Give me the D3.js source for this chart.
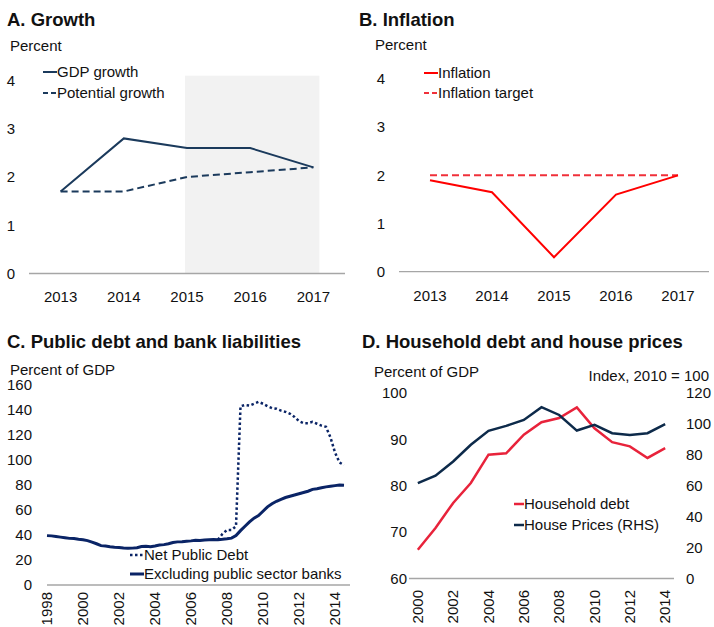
<!DOCTYPE html>
<html><head><meta charset="utf-8">
<script src="https://cdn.jsdelivr.net/npm/d3@7"></script>
<style>body{margin:0;background:#fff}svg{display:block}text{font-family:"Liberation Sans",Arial,sans-serif;fill:#111}</style>
</head><body>
<svg id="c" width="714" height="627"></svg>
<script>
// ---- Data ----
const yearsAB = [2013, 2014, 2015, 2016, 2017];
const gdpGrowth = [1.7, 2.8, 2.6, 2.6, 2.2];
const potentialGrowth = [1.7, 1.7, 2.0, 2.1, 2.2];
const inflation = [1.9, 1.65, 0.3, 1.6, 2.0];
const inflationTarget = [2.0, 2.0, 2.0, 2.0, 2.0];
const ticksAB = [0, 1, 2, 3, 4];
const shadeYears = [2015, 2017];

// Panel C: quarterly, starting 1998Q1
const cStart = 1998;
const exclPublicBanks = [
 39.5,39.3,38.8,38.3, 37.8,37.3,37.2,36.6, 36.2,35.5,34.3,33.0, 31.5,31.2,30.6,30.2,
 30.0,29.6,29.4,29.5, 29.8,30.8,30.9,30.7, 31.2,32.0,32.3,33.0, 34.0,34.5,34.6,35.0,
 35.3,35.8,35.6,36.0, 36.2,36.4,36.3,36.6, 37.0,37.5,39.5,43.5, 47.0,50.5,53.5,55.5,
 59.0,62.5,65.0,67.0, 68.5,70.0,71.0,72.0, 73.0,74.0,75.0,76.5, 77.0,77.8,78.5,79.0,
 79.5,80.0,79.8];
// Net public debt: quarterly from 2007Q3
const netStart = 2007.5;
const netPublicDebt = [36.3,41.0, 44.0,44.0,47.0,143.0, 144.0,143.5,145.0,146.5,
 145.0,143.0,141.5,141.0, 139.5,138.5,137.0,134.5, 131.0,129.5,129.5,130.5,
 129.0,127.5,126.5,118.0, 106.0,98.0,96.0];
const ticksCx = [1998,2000,2002,2004,2006,2008,2010,2012,2014];
const ticksCy = [0,20,40,60,80,100,120,140,160];

// Panel D: annual
const yearsD = d3.range(2000, 2015);
const householdDebt = [66.2,70.9,76.3,80.6,86.7,87.0,91.0,93.7,94.6,96.9,92.4,89.4,88.5,86.0,88.1];
const housePrices = [61.7,66.5,75.7,86.5,95.5,98.7,102.6,110.8,105.8,95.7,99.4,94.0,92.9,94.0,99.8];
const ticksDx = [2000,2002,2004,2006,2008,2010,2012,2014];
const ticksDl = [60,70,80,90,100];
const ticksDr = [0,20,40,60,80,100,120];

// ---- Drawing ----
const svg = d3.select("#c");
const navyA = "#1b3a5c", navyC = "#0a2466", navyD = "#0d2a4a", red = "#ff0000", redD = "#e8233b";
const axisCol = "#a6a6a6";
const FS = 15;

function title(x, y, t){ svg.append("text").attr("x",x).attr("y",y).attr("font-size",18.5).attr("font-weight","bold").text(t); }
function label(x, y, t, anchor){ svg.append("text").attr("x",x).attr("y",y).attr("font-size",FS).attr("text-anchor",anchor||"start").text(t); }
function hline(x1,x2,y){ svg.append("line").attr("x1",x1).attr("x2",x2).attr("y1",y).attr("y2",y).attr("stroke",axisCol).attr("stroke-width",1.3); }
function path(data, x, y, color, w, dash){
  const p = svg.append("path").datum(data).attr("fill","none").attr("stroke",color).attr("stroke-width",w)
    .attr("d", d3.line().x(d=>x(d[0])).y(d=>y(d[1])));
  if (dash) p.attr("stroke-dasharray", dash);
  return p;
}
function legendItem(x1,x2,y,color,w,dash,t){
  const l = svg.append("line").attr("x1",x1).attr("x2",x2).attr("y1",y).attr("y2",y).attr("stroke",color).attr("stroke-width",w);
  if (dash) l.attr("stroke-dasharray",dash);
  svg.append("text").attr("x",x2).attr("y",y).attr("dy","0.35em").attr("font-size",FS).text(t);
}

// Panel A
{
  const x = d3.scalePoint().domain(yearsAB).range([29,345]).padding(0.5);
  const y = d3.scaleLinear().domain([0,4]).range([273.5,80.5]);
  svg.append("rect").attr("x", x(shadeYears[0])-2).attr("width", x(shadeYears[1])-x(shadeYears[0])+8)
    .attr("y", y(4.1)).attr("height", y(0)-y(4.1)).attr("fill","#f2f2f2");
  title(7,26,"A. Growth");
  label(10,51,"Percent");
  ticksAB.forEach(t=>svg.append("text").attr("x",15).attr("y",y(t)).attr("dy","0.35em").attr("font-size",FS).attr("text-anchor","end").text(t));
  yearsAB.forEach(t=>svg.append("text").attr("x",x(t)).attr("y",297).attr("dy","0.35em").attr("font-size",FS).attr("text-anchor","middle").text(t));
  hline(29,345,y(0));
  path(yearsAB.map((d,i)=>[d,potentialGrowth[i]]), x, y, navyA, 2, "7,4");
  path(yearsAB.map((d,i)=>[d,gdpGrowth[i]]), x, y, navyA, 2);
  legendItem(43,57,72,navyA,2,null,"GDP growth");
  legendItem(43,57,93,navyA,2,"5,3","Potential growth");
}
// Panel B
{
  const x = d3.scalePoint().domain(yearsAB).range([399,709]).padding(0.5);
  const y = d3.scaleLinear().domain([0,4]).range([271.7,79]);
  title(359,26,"B. Inflation");
  label(375,50,"Percent");
  ticksAB.forEach(t=>svg.append("text").attr("x",385).attr("y",y(t)).attr("dy","0.35em").attr("font-size",FS).attr("text-anchor","end").text(t));
  yearsAB.forEach(t=>svg.append("text").attr("x",x(t)).attr("y",296).attr("dy","0.35em").attr("font-size",FS).attr("text-anchor","middle").text(t));
  hline(399,709,y(0));
  path(yearsAB.map((d,i)=>[d,inflationTarget[i]]), x, y, "#f0303a", 2, "7,4");
  path(yearsAB.map((d,i)=>[d,inflation[i]]), x, y, red, 2);
  legendItem(424,438,73,red,2,null,"Inflation");
  legendItem(424,438,93,"#f0303a",2,"5,3","Inflation target");
}
// Panel C
{
  const x = d3.scaleLinear().domain([1998,2014]).range([47,335]);
  const y = d3.scaleLinear().domain([0,160]).range([585,385]);
  title(7,348,"C. Public debt and bank liabilities");
  label(10,375,"Percent of GDP");
  ticksCy.forEach(t=>svg.append("text").attr("x",32).attr("y",y(t)).attr("dy","0.35em").attr("font-size",FS).attr("text-anchor","end").text(t));
  ticksCx.forEach(t=>svg.append("text").attr("transform",`translate(${x(t)},592) rotate(-90)`).attr("dy","0.35em").attr("font-size",FS).attr("text-anchor","end").text(t));
  hline(47,350,y(0));
  path(netPublicDebt.map((v,i)=>[netStart+i*0.25,v]), x, y, navyC, 2.5, "2.5,2.5");
  path(exclPublicBanks.map((v,i)=>[cStart+i*0.25,v]), x, y, navyC, 3);
  legendItem(130,144,555,navyC,2.5,"2.5,2.5","Net Public Debt");
  legendItem(130,144,574,navyC,3,null,"Excluding public sector banks");
}
// Panel D
{
  const x = d3.scalePoint().domain(yearsD).range([409,674]).padding(0.5);
  const yl = d3.scaleLinear().domain([60,100]).range([578.5,393]);
  const yr = d3.scaleLinear().domain([0,120]).range([578.5,393]);
  title(362,348,"D. Household debt and house prices");
  label(374,377,"Percent of GDP");
  label(709,381,"Index, 2010 = 100","end");
  ticksDl.forEach(t=>svg.append("text").attr("x",407).attr("y",yl(t)).attr("dy","0.35em").attr("font-size",FS).attr("text-anchor","end").text(t));
  ticksDr.forEach(t=>svg.append("text").attr("x",686).attr("y",yr(t)).attr("dy","0.35em").attr("font-size",FS).attr("text-anchor","start").text(t));
  ticksDx.forEach(t=>svg.append("text").attr("transform",`translate(${x(t)},590) rotate(-90)`).attr("dy","0.35em").attr("font-size",FS).attr("text-anchor","end").text(t));
  hline(409,674,yl(60));
  path(yearsD.map((d,i)=>[d,householdDebt[i]]), x, yl, redD, 2.5);
  path(yearsD.map((d,i)=>[d,housePrices[i]]), x, yr, navyD, 2.5);
  legendItem(514,524,504,redD,2.5,null,"Household debt");
  legendItem(514,524,525,navyD,2.5,null,"House Prices (RHS)");
}
</script>
</body></html>
